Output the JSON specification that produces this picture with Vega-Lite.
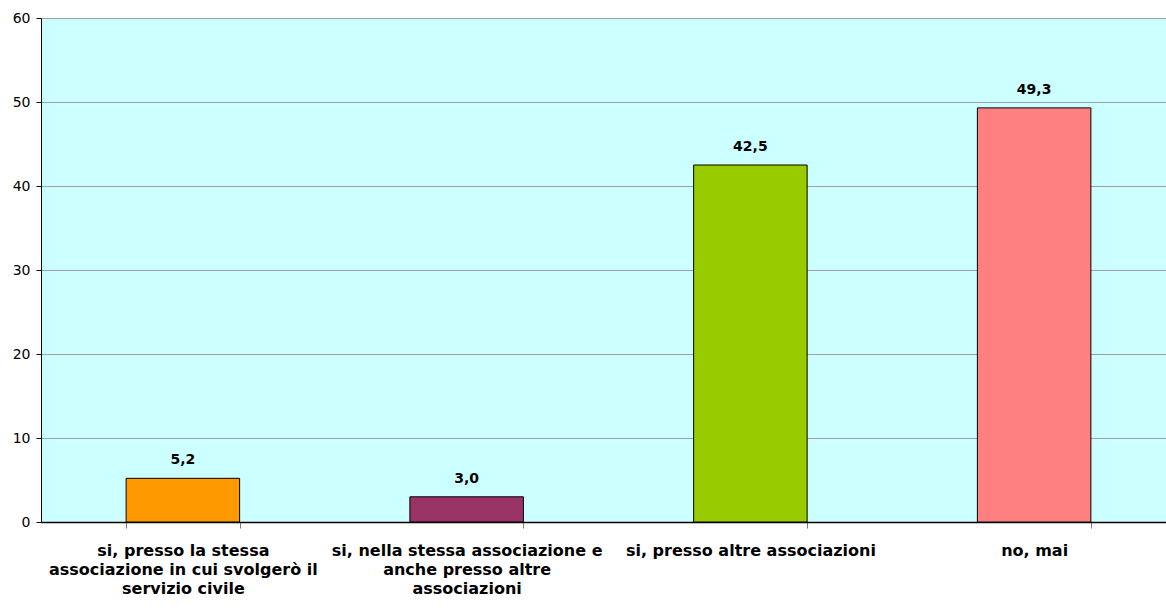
{
  "$schema": "https://vega.github.io/schema/vega-lite/v6.json",
  "autosize": {"type": "none"},
  "padding": {"left": 41, "top": 18, "right": 0, "bottom": 86},
  "width": 1135,
  "height": 504,
  "background": "#ffffff",
  "config": {
    "locale": {"number": {"decimal": ",", "thousands": ".", "grouping": [3], "currency": ["€", ""]}},
    "view": {"fill": "#CCFFFF", "stroke": "#808080", "strokeWidth": 1},
    "font": "DejaVu Sans"
  },
  "data": {
    "values": [
      {"cat": "si, presso la stessa associazione in cui svolgerò il servizio civile", "value": 5.2, "color": "#FF9900"},
      {"cat": "si, nella stessa associazione e anche presso altre associazioni", "value": 3.0, "color": "#993366"},
      {"cat": "si, presso altre associazioni", "value": 42.5, "color": "#99CC00"},
      {"cat": "no, mai", "value": 49.3, "color": "#FF8080"}
    ]
  },
  "encoding": {
    "x": {
      "field": "cat", "type": "nominal", "sort": null, "title": null,
      "scale": {"paddingInner": 0.6, "paddingOuter": 0.3},
      "axis": {
        "labelAngle": 0,
        "labelFont": "DejaVu Sans",
        "labelFontWeight": "bold",
        "labelFontSize": 16,
        "labelLineHeight": 19,
        "labelColor": "#000000",
        "labelPadding": 14,
        "labelBaseline": "top",
        "labelLimit": 0,
        "tickBand": "extent",
        "tickSize": 6,
        "tickColor": "#808080",
        "domainColor": "#000000",
        "domainWidth": 1.5,
        "labelExpr": "datum.value == 'si, presso la stessa associazione in cui svolgerò il servizio civile' ? ['si, presso la stessa', 'associazione in cui svolgerò il', 'servizio civile'] : datum.value == 'si, nella stessa associazione e anche presso altre associazioni' ? ['si, nella stessa associazione e', 'anche presso altre', 'associazioni'] : datum.value"
      }
    }
  },
  "layer": [
    {
      "mark": {"type": "bar", "stroke": "#000000", "strokeWidth": 1},
      "encoding": {
        "y": {
          "field": "value", "type": "quantitative", "title": null,
          "scale": {"domain": [0, 60], "nice": false},
          "axis": {
            "values": [0, 10, 20, 30, 40, 50, 60],
            "grid": true,
            "gridColor": "#A0A0A0",
            "gridWidth": 1,
            "labelFont": "DejaVu Sans",
            "labelFontSize": 14,
            "labelColor": "#000000",
            "labelPadding": 6,
            "tickSize": 5,
            "tickColor": "#000000",
            "domainColor": "#000000",
            "domainWidth": 1
          }
        },
        "color": {"field": "color", "type": "nominal", "scale": null, "legend": null}
      }
    },
    {
      "mark": {"type": "text", "font": "DejaVu Sans", "fontWeight": "bold", "fontSize": 14, "dy": -18, "color": "#000000", "baseline": "middle"},
      "encoding": {
        "y": {"field": "value", "type": "quantitative"},
        "text": {"field": "value", "type": "quantitative", "format": ".1f"}
      }
    }
  ]
}
